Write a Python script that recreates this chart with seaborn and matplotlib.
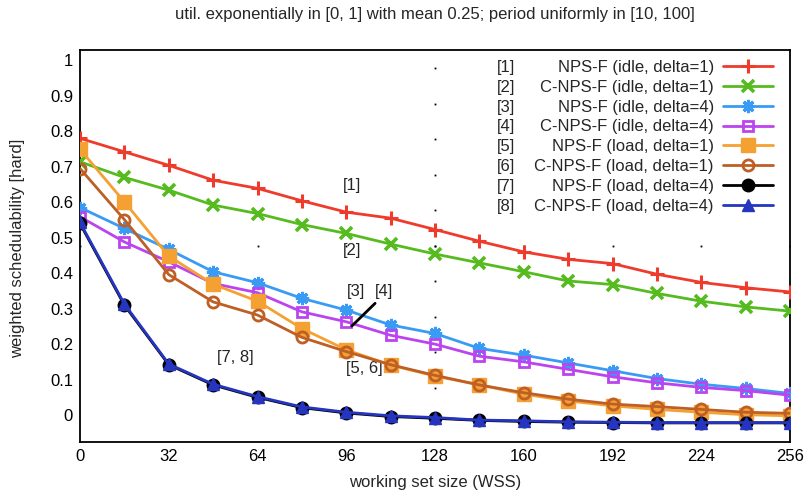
import numpy as np
import pandas as pd
import matplotlib
matplotlib.use("Agg")
import matplotlib.pyplot as plt
import matplotlib.transforms as mtransforms
import seaborn as sns

# ---------------- data ----------------
wss = [0, 16, 32, 48, 64, 80, 96, 112, 128, 144, 160, 176, 192, 208, 224, 240, 256]

nps_idle_d1 = [0.803, 0.765, 0.727, 0.685, 0.662, 0.627, 0.595, 0.578, 0.546, 0.513, 0.483, 0.462, 0.450, 0.420, 0.397, 0.382, 0.370]
cnps_idle_d1 = [0.737, 0.693, 0.657, 0.615, 0.591, 0.560, 0.535, 0.505, 0.477, 0.452, 0.427, 0.401, 0.391, 0.366, 0.344, 0.328, 0.316]
nps_idle_d4 = [0.608, 0.549, 0.490, 0.427, 0.396, 0.352, 0.319, 0.277, 0.253, 0.211, 0.192, 0.170, 0.148, 0.126, 0.110, 0.098, 0.084]
cnps_idle_d4 = [0.582, 0.511, 0.455, 0.394, 0.368, 0.314, 0.286, 0.248, 0.223, 0.189, 0.173, 0.152, 0.131, 0.114, 0.101, 0.092, 0.079]
nps_load_d1 = [0.772, 0.624, 0.471, 0.392, 0.344, 0.267, 0.207, 0.164, 0.133, 0.108, 0.082, 0.063, 0.049, 0.039, 0.031, 0.024, 0.021]
cnps_load_d1 = [0.718, 0.574, 0.419, 0.342, 0.305, 0.242, 0.202, 0.165, 0.135, 0.108, 0.086, 0.068, 0.054, 0.047, 0.039, 0.031, 0.028]
nps_load_d4 = [0.563, 0.333, 0.165, 0.108, 0.073, 0.044, 0.029, 0.019, 0.014, 0.008, 0.005, 0.003, 0.002, 0.001, 0.001, 0.001, 0.001]
cnps_load_d4 = [0.566, 0.336, 0.167, 0.110, 0.075, 0.046, 0.031, 0.021, 0.016, 0.009, 0.007, 0.004, 0.003, 0.002, 0.002, 0.002, 0.002]

series_names = ["NPS-F (idle, delta=1)", "C-NPS-F (idle, delta=1)",
                "NPS-F (idle, delta=4)", "C-NPS-F (idle, delta=4)",
                "NPS-F (load, delta=1)", "C-NPS-F (load, delta=1)",
                "NPS-F (load, delta=4)", "C-NPS-F (load, delta=4)"]
series_tags = ["[1]", "[2]", "[3]", "[4]", "[5]", "[6]", "[7]", "[8]"]
series_values = [nps_idle_d1, cnps_idle_d1, nps_idle_d4, cnps_idle_d4,
                 nps_load_d1, cnps_load_d1, nps_load_d4, cnps_load_d4]

x_ticks = [0, 32, 64, 96, 128, 160, 192, 224, 256]
y_ticks = [0, 0.1, 0.2, 0.3, 0.4, 0.5, 0.6, 0.7, 0.8, 0.9, 1]
y_tick_labels = ["0", "0.1", "0.2", "0.3", "0.4", "0.5", "0.6", "0.7", "0.8", "0.9", "1"]

title = "util. exponentially in [0, 1] with mean 0.25; period uniformly in [10, 100]"
xlabel = "working set size (WSS)"
ylabel = "weighted schedulability [hard]"

# ---------------- style ----------------
sns.set_style("white")
plt.rcParams["font.family"] = ["Liberation Sans", "DejaVu Sans"]
plt.rcParams["font.size"] = 12

colors = ["#EE3B2B", "#55BB1E", "#3A9BF5", "#BB44EE", "#F5A033", "#BE5F25", "#000000", "#2535C0"]
styles = [
    dict(marker="+", ms=10, mew=2.2, mfc="none"),
    dict(marker="x", ms=8.5, mew=2.6, mfc="none"),
    dict(marker=(8, 2, 0), ms=9.5, mew=2.2, mfc="none"),
    dict(marker="s", ms=7.8, mew=2.0, mfc="none"),
    dict(marker="s", ms=9.5, mew=1.0),
    dict(marker="o", ms=8.0, mew=2.0, mfc="none"),
    dict(marker="o", ms=9.0, mew=1.0),
    dict(marker="^", ms=8.5, mew=1.0),
]

W, H = 806, 495
fig = plt.figure(figsize=(W / 100, H / 100), dpi=100)
ax = fig.add_axes([80 / W, 1 - 441.7 / H, (790 - 80) / W, (441.7 - 50) / H])

# dotted grid (sparse dots at tick positions)
ax.plot([128] * len(y_ticks), y_ticks, ls="none", marker="s", ms=1.3, color="black", mew=0, zorder=1)
ax.plot(x_ticks, [0.5] * len(x_ticks), ls="none", marker="s", ms=1.3, color="black", mew=0, zorder=1)

for i, (name, vals) in enumerate(zip(series_names, series_values)):
    df = pd.DataFrame({"wss": wss, "val": vals})
    st = styles[i]
    kw = dict(marker=st["marker"], markersize=st["ms"], markeredgewidth=st["mew"],
              markeredgecolor=colors[i])
    if "mfc" in st:
        kw["markerfacecolor"] = st["mfc"]
    else:
        kw["markerfacecolor"] = colors[i]
    sns.lineplot(data=df, x="wss", y="val", ax=ax, color=colors[i], linewidth=2.0,
                 label=name, zorder=3 + i, **kw)

ax.set_xlim(0, 256)
ax.set_ylim(-0.052, 1.052)
ax.set_xticks(x_ticks)
ax.set_xticklabels([str(v) for v in x_ticks])
ax.set_yticks(y_ticks)
ax.set_yticklabels(y_tick_labels)
ax.tick_params(axis="both", length=0, labelsize=12, colors="black")
ax.tick_params(axis="y", pad=5)
ax.tick_params(axis="x", pad=5)
off = mtransforms.ScaledTranslation(0, 8 / 100, fig.dpi_scale_trans)
for lab in ax.get_yticklabels():
    lab.set_transform(lab.get_transform() + off)
for sp in ax.spines.values():
    sp.set_color("black")
    sp.set_linewidth(1.3)
    sp.set_visible(True)
ax.set_xlabel("")
ax.set_ylabel("")

fig.text(435 / W, 1 - 15 / H, title, ha="center", va="center", fontsize=12)
fig.text(435 / W, 1 - 483 / H, xlabel, ha="center", va="center", fontsize=12)
fig.text(18 / W, 1 - 248 / H, ylabel, ha="center", va="center", rotation=90, fontsize=12)

# annotations
ax.text(98, 0.671, "[1]", ha="center", va="center", fontsize=12)
ax.text(98, 0.488, "[2]", ha="center", va="center", fontsize=12)
ax.text(99.5, 0.372, "[3]", ha="center", va="center", fontsize=12)
ax.text(109.5, 0.372, "[4]", ha="center", va="center", fontsize=12)
ax.plot([106.4, 98.0], [0.338, 0.274], color="black", lw=2.0, zorder=20)
ax.text(102.5, 0.155, "[5, 6]", ha="center", va="center", fontsize=12)
ax.text(56, 0.184, "[7, 8]", ha="center", va="center", fontsize=12)

# legend: descriptions right-aligned, handles on the right
handles, labels = ax.get_legend_handles_labels()
leg = ax.legend(handles, labels, loc="upper right", markerfirst=False,
                bbox_to_anchor=(773 / W, 1 - 60 / H), bbox_transform=fig.transFigure,
                frameon=False, borderpad=0, borderaxespad=0, labelspacing=0.29,
                handlelength=3.0, handletextpad=0.55, fontsize=12)

fig.canvas.draw()
renderer = fig.canvas.get_renderer()
for tag, t in zip(series_tags, leg.get_texts()):
    bb = t.get_window_extent(renderer)
    yc = (bb.y0 + bb.y1) / 2
    fig.text(497 / W, yc / H, tag, ha="left", va="center", fontsize=12)

fig.savefig("out.png", dpi=100)
